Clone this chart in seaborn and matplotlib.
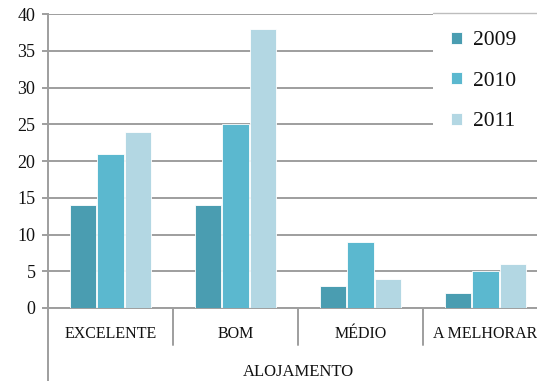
import matplotlib
matplotlib.use("Agg")
import matplotlib.pyplot as plt
import matplotlib.transforms as mtransforms
import pandas as pd
import seaborn as sns

categories = ["EXCELENTE", "BOM", "MÉDIO", "A MELHORAR"]
years = ["2009", "2010", "2011"]
values_2009 = [14, 14, 3, 2]
values_2010 = [21, 25, 9, 5]
values_2011 = [24, 38, 4, 6]
y_ticks = [0, 5, 10, 15, 20, 25, 30, 35, 40]
x_title = "ALOJAMENTO"

palette = ["#4A9DB1", "#5BB8CF", "#B3D7E3"]
grid_color = "#9E9E9E"

df = pd.DataFrame({
    "categoria": categories * 3,
    "ano": [y for y in years for _ in categories],
    "valor": values_2009 + values_2010 + values_2011,
})

sns.set_theme(style="white")
plt.rcParams["font.family"] = ["Liberation Serif", "DejaVu Serif"]

fig = plt.figure(figsize=(5.37, 3.81), dpi=100)
ax = fig.add_axes([48 / 537, 73 / 381, 500 / 537, 294 / 381])

sns.barplot(data=df, x="categoria", y="valor", hue="ano", order=categories,
            hue_order=years, palette=palette, width=0.66, gap=0.04,
            edgecolor="white", linewidth=0.6, saturation=1, ax=ax, zorder=3)

ax.set_xlim(-0.5, 3.5)
ax.set_ylim(0, 40)
ax.set_yticks(y_ticks)
ax.yaxis.grid(True, color=grid_color, linewidth=1.4)
ax.set_axisbelow(True)
for side in ["top", "right"]:
    ax.spines[side].set_visible(False)
for side in ["left", "bottom"]:
    ax.spines[side].set_color(grid_color)
    ax.spines[side].set_linewidth(1.4)

ax.tick_params(axis="y", which="major", length=4, width=1.4, color=grid_color,
               labelsize=13, labelcolor="#111111", pad=5, left=True)
ax.tick_params(axis="x", which="major", length=0, labelsize=11.5,
               labelcolor="#111111", pad=13)

# category separators and extended left axis below the baseline
trans = mtransforms.blended_transform_factory(ax.transData, ax.transAxes)
for b in [0.5, 1.5, 2.5]:
    ax.plot([b, b], [0, -37 / 294], transform=trans, color=grid_color,
            linewidth=1.4, clip_on=False)
ax.plot([-0.5, -0.5], [0, -73 / 294], transform=trans, color=grid_color,
        linewidth=1.4, clip_on=False)

ax.set_xlabel(x_title, fontsize=12, color="#111111", labelpad=16)
ax.set_ylabel("")

leg = ax.legend(loc="upper left",
                bbox_to_anchor=(433 / 537, 1 - 13 / 381, 110 / 537, 0.0),
                mode="expand",
                bbox_transform=fig.transFigure, fontsize=15.5, frameon=True,
                fancybox=False, edgecolor="white", facecolor="white",
                framealpha=1, handlelength=0.5, handleheight=0.5,
                handletextpad=0.5, labelspacing=1.0, borderpad=0.85,
                borderaxespad=0)
leg.get_frame().set_linewidth(0)
leg.set_zorder(5)
for t in leg.get_texts():
    t.set_color("#111111")

# thin top edge of the legend box
fig.add_artist(plt.Line2D([433 / 537, 1], [1 - 13 / 381, 1 - 13 / 381],
                          transform=fig.transFigure, color="#BDBDBD",
                          linewidth=1.0, zorder=6))

fig.savefig("out.png", dpi=100)
